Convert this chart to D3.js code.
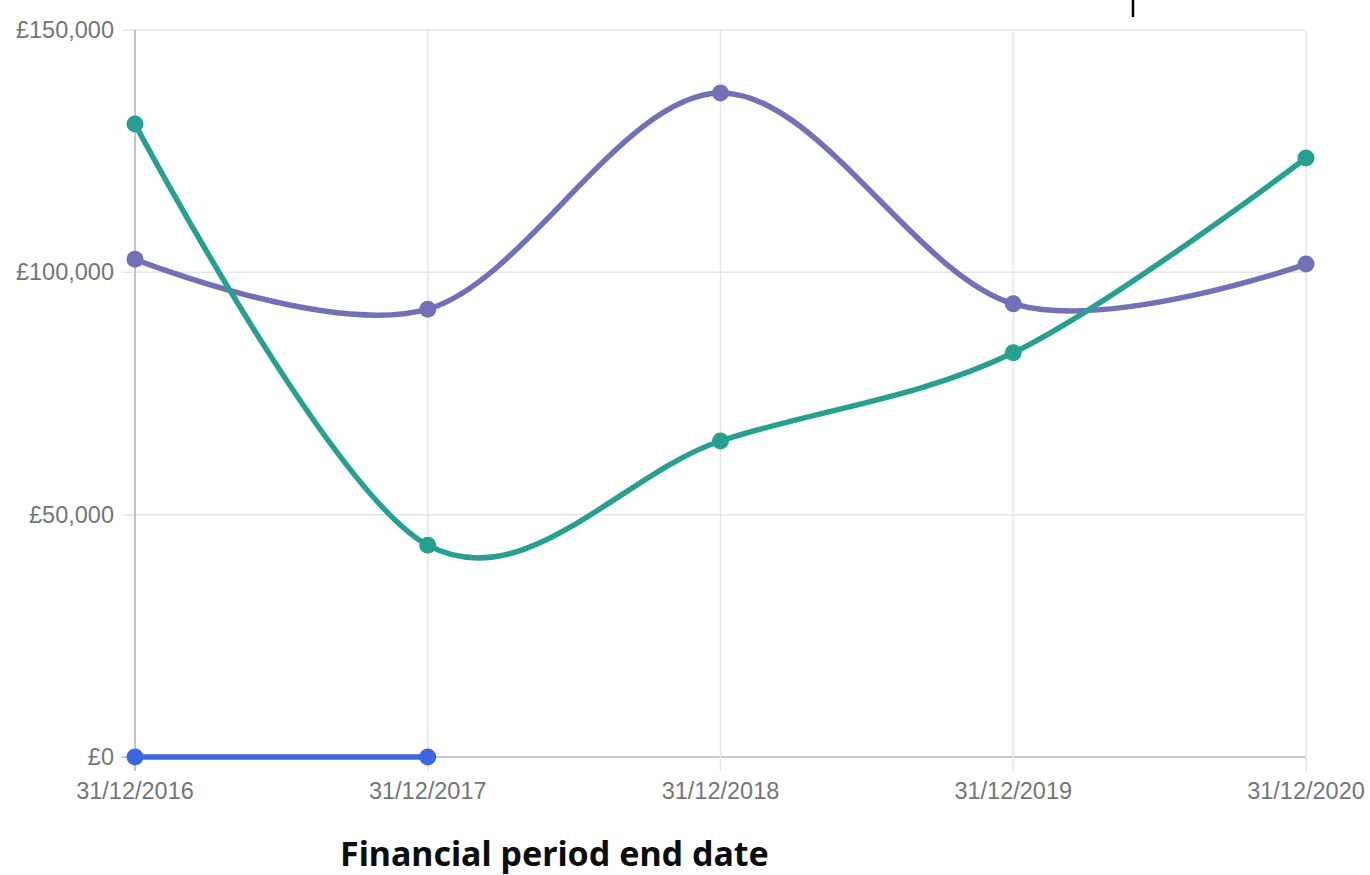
<!DOCTYPE html>
<html>
<head>
<meta charset="utf-8">
<script src="https://cdn.jsdelivr.net/npm/d3@7"></script>
<style>
  body { margin: 0; background: #fff; }
  svg { display: block; }
</style>
</head>
<body>
<svg id="chart"></svg>
<script>
// data
var dates = ["31/12/2016", "31/12/2017", "31/12/2018", "31/12/2019", "31/12/2020"];
var tealValues = [130600, 43700, 65200, 83400, 123600];
var purpleValues = [102700, 92400, 137000, 93500, 101700];
var blueValues = [0, 0];
var yTicks = [0, 50000, 100000, 150000];
var yTickLabels = ["£0", "£50,000", "£100,000", "£150,000"];

var svgWidth = 1370, svgHeight = 875;

var svg = d3.select("#chart")
    .attr("width", svgWidth)
    .attr("height", svgHeight);

var xScale = d3.scalePoint()
    .domain(dates)
    .range([135, 1306]);
var yScale = d3.scaleLinear()
    .domain([0, 150000])
    .range([757, 30]);

// horizontal grid
svg.append("g")
    .selectAll("line")
    .data(yTicks)
    .enter().append("line")
    .attr("x1", 122)
    .attr("x2", 1306)
    .attr("y1", function(d) { return yScale(d); })
    .attr("y2", function(d) { return yScale(d); })
    .attr("stroke", function(d) { return d === 0 ? "#b5b5b5" : "#e6e6e6"; })
    .attr("stroke-width", 1.5);

// vertical grid
svg.append("g")
    .selectAll("line")
    .data(dates)
    .enter().append("line")
    .attr("x1", function(d) { return xScale(d); })
    .attr("x2", function(d) { return xScale(d); })
    .attr("y1", 30)
    .attr("y2", 771)
    .attr("stroke", function(d, i) { return i === 0 ? "#b0b0b0" : "#e6e6e6"; })
    .attr("stroke-width", 1.5);

// y labels
svg.append("g")
    .selectAll("text")
    .data(yTicks)
    .enter().append("text")
    .attr("x", 114)
    .attr("y", function(d) { return yScale(d) + 8; })
    .attr("text-anchor", "end")
    .attr("font-family", "Liberation Sans, Arial, sans-serif")
    .attr("font-size", 23.5)
    .attr("fill", "#757575")
    .text(function(d, i) { return yTickLabels[i]; });

// x labels
svg.append("g")
    .selectAll("text")
    .data(dates)
    .enter().append("text")
    .attr("x", function(d) { return xScale(d); })
    .attr("y", 799)
    .attr("text-anchor", "middle")
    .attr("font-family", "Liberation Sans, Arial, sans-serif")
    .attr("font-size", 23.5)
    .attr("fill", "#757575")
    .text(function(d) { return d; });

var line = d3.line()
    .x(function(d, i) { return xScale(dates[i]); })
    .y(function(d) { return yScale(d); })
    .curve(d3.curveCardinal.tension(0));

var series = [
    {values: purpleValues, color: "#7270b6"},
    {values: tealValues, color: "#27a092"},
    {values: blueValues, color: "#3f66e2"}
];

series.forEach(function(s) {
    svg.append("path")
        .datum(s.values)
        .attr("d", line)
        .attr("fill", "none")
        .attr("stroke", s.color)
        .attr("stroke-width", 5.5);
    svg.append("g")
        .selectAll("circle")
        .data(s.values)
        .enter().append("circle")
        .attr("cx", function(d, i) { return xScale(dates[i]); })
        .attr("cy", function(d) { return yScale(d); })
        .attr("r", 8.5)
        .attr("fill", s.color);
});

// axis title
svg.append("text")
    .attr("x", 340)
    .attr("y", 866)
    .attr("font-family", "Noto Sans, sans-serif")
    .attr("font-weight", "bold")
    .attr("font-size", 34)
    .attr("fill", "#0b0c0c")
    .text("Financial period end date");

// stray caret mark at the top
svg.append("line")
    .attr("x1", 1133)
    .attr("x2", 1133)
    .attr("y1", 0)
    .attr("y2", 17)
    .attr("stroke", "#000")
    .attr("stroke-width", 2.5);
</script>
</body>
</html>
